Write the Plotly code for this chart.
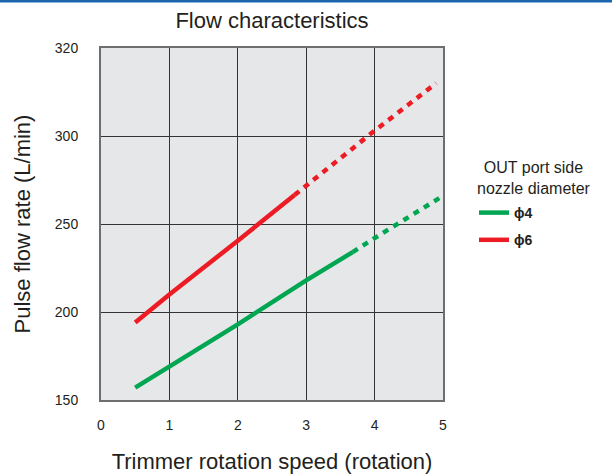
import plotly.graph_objects as go

# ---- data ----
phi4_solid_x = [0.5, 1, 2, 3, 3.68]
phi4_solid_y = [157, 169, 193, 218, 234]
phi4_dot_x = [3.68, 4, 5]
phi4_dot_y = [234, 242, 266]

phi6_solid_x = [0.5, 1, 2, 2.83]
phi6_solid_y = [194, 210, 240.5, 266.5]
phi6_dot_x = [2.83, 4, 4.9]
phi6_dot_y = [266.5, 303, 330]

x_ticks = [0, 1, 2, 3, 4, 5]
y_tickvals = [150, 200, 250, 300, 350]
y_ticktext = ["150", "200", "250", "300", "320"]

GREEN = "#00A651"
RED = "#ED1C24"
TXT = "#231F20"
FONT = "Liberation Sans, Arial, sans-serif"

fig = go.Figure()
fig.add_trace(go.Scatter(x=phi4_solid_x, y=phi4_solid_y, mode="lines",
                         line=dict(color=GREEN, width=4.5), name="<b>ϕ4</b>",
                         legendgroup="g4"))
fig.add_trace(go.Scatter(x=phi4_dot_x, y=phi4_dot_y, mode="lines",
                         line=dict(color=GREEN, width=4.5, dash="6px,6px"),
                         showlegend=False, legendgroup="g4"))
fig.add_trace(go.Scatter(x=phi6_solid_x, y=phi6_solid_y, mode="lines",
                         line=dict(color=RED, width=4.5), name="<b>ϕ6</b>",
                         legendgroup="g6"))
fig.add_trace(go.Scatter(x=phi6_dot_x, y=phi6_dot_y, mode="lines",
                         line=dict(color=RED, width=4.5, dash="6px,6px"),
                         showlegend=False, legendgroup="g6"))

L, R, T, B = 101, 169, 48, 74
W, H = 612, 474
pw, ph = W - L - R, H - T - B

fig.update_layout(
    width=W, height=H,
    margin=dict(l=L, r=R, t=T, b=B, autoexpand=False),
    paper_bgcolor="white",
    plot_bgcolor="#E6E7E8",
    font=dict(family=FONT, color=TXT),
    title=dict(text="Flow characteristics", x=(L + pw / 2) / W, xanchor="center",
               y=1 - 20 / H, yanchor="middle", font=dict(size=22, color=TXT)),
    showlegend=True,
    legend=dict(x=(474 - L) / pw, xanchor="left", y=(400 - 197) / ph, yanchor="top",
                yref="paper", font=dict(size=14, color=TXT),
                bgcolor="rgba(0,0,0,0)", tracegroupgap=6, itemwidth=30),
    xaxis=dict(range=[0, 5], tickvals=x_ticks, showgrid=True, gridcolor="#333333",
               gridwidth=1, zeroline=False, showline=True, linecolor="#6d6e70",
               linewidth=2, mirror=True, ticks="", ticklabelstandoff=11,
               tickfont=dict(size=14, color=TXT), automargin=False,
               title=dict(text="Trimmer rotation speed (rotation)",
                          font=dict(size=22, color=TXT), standoff=27)),
    yaxis=dict(range=[150, 350], tickvals=y_tickvals, ticktext=y_ticktext,
               showgrid=True, gridcolor="#333333", gridwidth=1, zeroline=False,
               showline=True, linecolor="#6d6e70", linewidth=2, mirror=True,
               ticks="", ticklabelstandoff=18, automargin=False,
               tickfont=dict(size=14, color=TXT),
               title=dict(text="Pulse flow rate (L/min)",
                          font=dict(size=22, color=TXT), standoff=18)),
    annotations=[dict(text="OUT port side<br>nozzle diameter", xref="paper", yref="paper",
                      x=(534 - L) / pw, y=(400 - 178) / ph, xanchor="center",
                      yanchor="middle", showarrow=False, align="center",
                      font=dict(size=16, color=TXT))],
    shapes=[dict(type="rect", xref="paper", yref="paper",
                 x0=-L / pw, x1=(W - L) / pw,
                 y0=(H - B - 2.5) / ph, y1=1.3,
                 fillcolor="#1B64AE", line=dict(width=0), layer="above")],
)

fig.write_html("out.html", config={"displayModeBar": False},
               post_script="document.body.style.margin='0';document.body.style.overflow='hidden';")
